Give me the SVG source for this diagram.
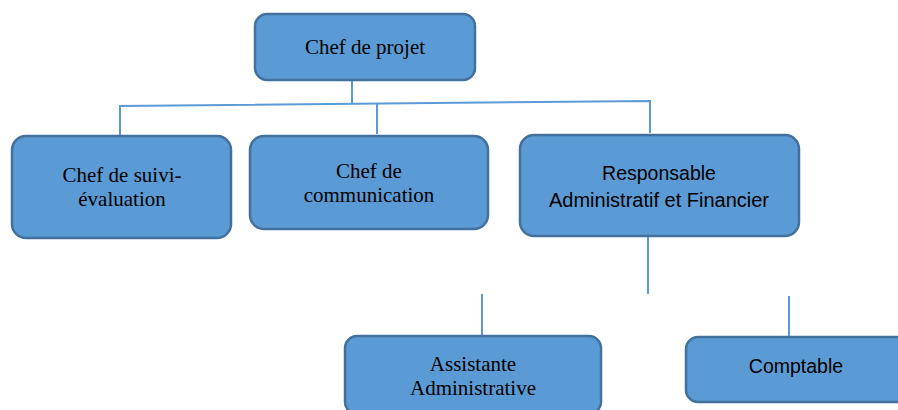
<svg xmlns="http://www.w3.org/2000/svg" width="898" height="410" viewBox="0 0 898 410">
  <style>
    .box { fill: #5B9BD5; stroke: #41719C; stroke-width: 2.5; }
    .serif { font-family: "Liberation Serif", "Times New Roman", serif; font-size: 21px; fill: #000; text-anchor: middle; }
    .sans { font-family: "Liberation Sans", Arial, sans-serif; font-size: 19.5px; fill: #000; text-anchor: middle; }
    .link { stroke: #5B9BD5; stroke-width: 2; fill: none; }
  </style>
  <rect width="898" height="410" fill="#fff"/>

  <g id="connectors">
    <line class="link" x1="352" y1="80" x2="352" y2="103"/>
    <polyline class="link" points="120,135 120,106 650,101 650,133"/>
    <line class="link" x1="377" y1="103.5" x2="377" y2="134"/>
    <line class="link" x1="648" y1="236" x2="648" y2="294"/>
    <line class="link" x1="482" y1="294" x2="482" y2="335"/>
    <line class="link" x1="789" y1="296" x2="789" y2="337"/>
  </g>

  <g id="chef-projet">
    <rect class="box" x="255" y="14" width="220" height="66" rx="12"/>
    <text class="serif" x="365" y="54">Chef de projet</text>
  </g>

  <g id="chef-suivi">
    <rect class="box" x="12" y="136" width="219" height="102" rx="14"/>
    <text class="serif" x="122" y="182">Chef de suivi-</text>
    <text class="serif" x="122" y="206">évaluation</text>
  </g>

  <g id="chef-communication">
    <rect class="box" x="250" y="136" width="238" height="93" rx="14"/>
    <text class="serif" x="369" y="178">Chef de</text>
    <text class="serif" x="369" y="202">communication</text>
  </g>

  <g id="raf">
    <rect class="box" x="520" y="135" width="279" height="101" rx="14"/>
    <text class="sans" x="659" y="180">Responsable</text>
    <text class="sans" x="659" y="207" textLength="220" lengthAdjust="spacingAndGlyphs">Administratif et Financier</text>
  </g>

  <g id="assistante">
    <rect class="box" x="345" y="336" width="256" height="78" rx="12"/>
    <text class="serif" x="473" y="371">Assistante</text>
    <text class="serif" x="473" y="395">Administrative</text>
  </g>

  <g id="comptable">
    <rect class="box" x="686" y="337" width="230" height="65" rx="12"/>
    <text class="sans" x="796" y="373">Comptable</text>
  </g>
</svg>
